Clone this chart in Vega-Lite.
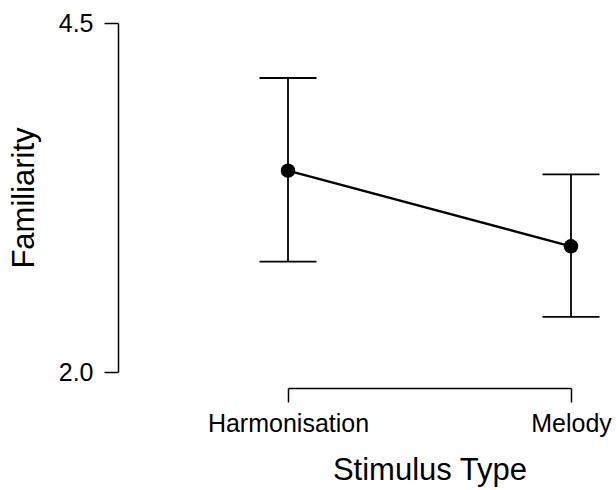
{
  "$schema": "https://vega.github.io/schema/vega-lite/v6.json",
  "width": 283,
  "height": 349,
  "autosize": {"type": "none"},
  "padding": {"left": 288, "top": 23, "right": 45, "bottom": 118},
  "config": {"view": {"stroke": null}, "font": "Liberation Sans"},
  "data": {
    "values": [
      {"type": "Harmonisation", "mean": 3.442, "lower": 2.791, "upper": 4.106},
      {"type": "Melody", "mean": 2.9, "lower": 2.395, "upper": 3.416}
    ]
  },
  "encoding": {
    "x": {
      "field": "type",
      "type": "nominal",
      "title": "Stimulus Type",
      "scale": {"type": "point", "padding": 0},
      "axis": {
        "orient": "bottom",
        "offset": 16,
        "labelAngle": 0,
        "domainColor": "black",
        "domainWidth": 1.5,
        "tickColor": "black",
        "tickWidth": 1.5,
        "tickSize": 14,
        "labelPadding": 9,
        "labelFontSize": 25,
        "labelColor": "black",
        "labelFont": "Liberation Sans",
        "titleFont": "Liberation Sans",
        "titleFontSize": 31,
        "titleFontWeight": "normal",
        "titleColor": "black",
        "titlePadding": 19,
        "grid": false
      }
    }
  },
  "layer": [
    {
      "mark": {"type": "rule", "color": "black", "strokeWidth": 1.8},
      "encoding": {
        "y": {
          "field": "lower",
          "type": "quantitative",
          "title": "Familiarity",
          "scale": {"domain": [2, 4.5], "zero": false, "nice": false},
          "axis": {
            "values": [2, 4.5],
            "format": ".1f",
            "offset": 170,
            "domainColor": "black",
            "domainWidth": 1.5,
            "tickColor": "black",
            "tickWidth": 1.5,
            "tickSize": 14,
            "labelPadding": 11,
            "labelFontSize": 25,
            "labelColor": "black",
            "labelFont": "Liberation Sans",
            "titleFont": "Liberation Sans",
            "titleFontSize": 31,
            "titleFontWeight": "normal",
            "titleColor": "black",
            "titlePadding": 18,
            "grid": false
          }
        },
        "y2": {"field": "upper"}
      }
    },
    {
      "mark": {"type": "tick", "color": "black", "size": 57, "thickness": 1.8, "opacity": 1},
      "encoding": {"y": {"field": "lower", "type": "quantitative"}}
    },
    {
      "mark": {"type": "tick", "color": "black", "size": 57, "thickness": 1.8, "opacity": 1},
      "encoding": {"y": {"field": "upper", "type": "quantitative"}}
    },
    {
      "mark": {"type": "line", "color": "black", "strokeWidth": 2.3},
      "encoding": {"y": {"field": "mean", "type": "quantitative"}}
    },
    {
      "mark": {"type": "point", "filled": true, "color": "black", "size": 210, "opacity": 1},
      "encoding": {"y": {"field": "mean", "type": "quantitative"}}
    }
  ]
}
